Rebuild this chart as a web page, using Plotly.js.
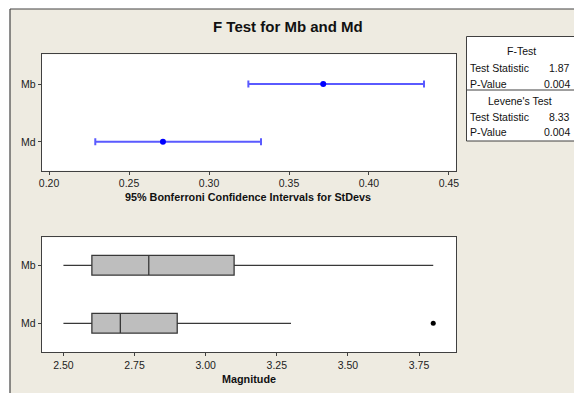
<!DOCTYPE html>
<html>
<head>
<meta charset="utf-8">
<script src="https://cdn.plot.ly/plotly-3.0.1.min.js"></script>
<style>html,body{margin:0;padding:0;background:#fff;}#chart{width:574px;height:393px;}</style>
</head>
<body>
<div id="chart"></div>
<script>
// ---- data ----
const groups = ['Mb', 'Md'];
const stdevEst = [0.3714, 0.2712];
const ciLower = [0.3246, 0.2289];
const ciUpper = [0.4344, 0.3325];

const boxQ1 = [2.6, 2.6];
const boxMedian = [2.8, 2.7];
const boxQ3 = [3.1, 2.9];
const whiskLow = [2.5, 2.5];
const whiskHigh = [3.8, 3.3];
const outlierGroup = ['Md'];
const outlierValue = [3.8];

const topTicks = [0.20, 0.25, 0.30, 0.35, 0.40, 0.45];
const bottomTicks = [2.50, 2.75, 3.00, 3.25, 3.50, 3.75];

const tableHeaders = ['F-Test', "Levene's Test"];
const tableRowLabels = ['Test Statistic', 'P-Value'];
const fTestValues = ['1.87', '0.004'];
const leveneValues = ['8.33', '0.004'];

// ---- geometry helpers (pixels -> paper) ----
const W = 574, H = 393;
const px = v => v / W;
const py = v => 1 - v / H;

const FAM = 'Liberation Sans, Arial, sans-serif';
const tickFont = {family: FAM, size: 10.5, color: '#222'};
const lineCol = '#404040';

const traces = [
  {
    type: 'scatter', mode: 'markers',
    x: stdevEst, y: groups, xaxis: 'x', yaxis: 'y',
    marker: {color: '#0000ff', size: 6},
    error_x: {
      type: 'data', symmetric: false,
      array: ciUpper.map((u, i) => u - stdevEst[i]),
      arrayminus: stdevEst.map((c, i) => c - ciLower[i]),
      color: '#5a5aff', thickness: 2, width: 3.5
    },
    hoverinfo: 'skip', showlegend: false
  },
  {
    type: 'box', orientation: 'h',
    y: groups, q1: boxQ1, median: boxMedian, q3: boxQ3,
    lowerfence: whiskLow, upperfence: whiskHigh,
    xaxis: 'x2', yaxis: 'y2',
    fillcolor: '#bebebe', line: {color: '#383838', width: 1.3},
    whiskerwidth: 0, width: 0.34, boxpoints: false,
    hoverinfo: 'skip', showlegend: false
  },
  {
    type: 'scatter', mode: 'markers',
    x: outlierValue, y: outlierGroup, xaxis: 'x2', yaxis: 'y2',
    marker: {color: '#000', size: 5, symbol: 'circle'},
    hoverinfo: 'skip', showlegend: false
  }
];

const axisCommon = {
  showgrid: false, zeroline: false, showline: true, mirror: true,
  linecolor: lineCol, linewidth: 1, ticks: 'outside', ticklen: 3,
  tickcolor: lineCol, tickfont: tickFont, fixedrange: true
};

// table layout
const tL = 466.5, tT = 36.5, tB = 141, tSep = 90;
const shapes = [
  {type: 'rect', xref: 'paper', yref: 'paper', x0: 0, x1: 1, y0: py(9), y1: 1, fillcolor: '#ffffff', line: {width: 0}, layer: 'below'},
  {type: 'rect', xref: 'paper', yref: 'paper', x0: 0, x1: px(10), y0: 0, y1: 1, fillcolor: '#ffffff', line: {width: 0}, layer: 'below'},
  {type: 'line', xref: 'paper', yref: 'paper', x0: px(10), x1: px(10), y0: -0.05, y1: py(9), line: {color: '#444', width: 1.2}},
  {type: 'line', xref: 'paper', yref: 'paper', x0: px(10), x1: 1.05, y0: py(9), y1: py(9), line: {color: '#444', width: 1.2}},
  {type: 'rect', xref: 'paper', yref: 'paper', x0: px(tL), x1: 1.05, y0: py(tB), y1: py(tT), fillcolor: '#ffffff', line: {color: lineCol, width: 1}},
  {type: 'line', xref: 'paper', yref: 'paper', x0: px(tL), x1: 1.05, y0: py(tSep), y1: py(tSep), line: {color: lineCol, width: 1}}
];

const tf = {family: FAM, size: 10.5, color: '#111'};
const ann = (text, x, y, xanchor, font) => ({
  text, x: px(x), y: py(y), xref: 'paper', yref: 'paper',
  xanchor, yanchor: 'middle', showarrow: false, font: font || tf
});
const annotations = [
  ann('<b>F Test for Mb and Md</b>', 288, 26, 'center', {family: FAM, size: 15, color: '#111'}),
  ann('<b>95% Bonferroni Confidence Intervals for StDevs</b>', 248, 197, 'center', {family: FAM, size: 10.8, color: '#111'}),
  ann('<b>Magnitude</b>', 249, 379, 'center', {family: FAM, size: 10.8, color: '#111'}),
  ann(tableHeaders[0], 521, 50.5, 'center'),
  ann(tableRowLabels[0], 468, 68, 'left'),
  ann(fTestValues[0], 572, 68, 'right'),
  ann(tableRowLabels[1], 468, 83.5, 'left'),
  ann(fTestValues[1], 572, 83.5, 'right'),
  ann(tableHeaders[1], 520, 100.5, 'center'),
  ann(tableRowLabels[0], 468, 117.5, 'left'),
  ann(leveneValues[0], 572, 117.5, 'right'),
  ann(tableRowLabels[1], 468, 131.5, 'left'),
  ann(leveneValues[1], 572, 131.5, 'right')
];

const layout = {
  width: W, height: H,
  margin: {l: 0, r: 0, t: 0, b: 0, pad: 0},
  paper_bgcolor: '#eeebe1', plot_bgcolor: '#ffffff',
  showlegend: false,
  xaxis: Object.assign({}, axisCommon, {
    domain: [px(41.7), px(456)], range: [0.1954, 0.4544], anchor: 'y',
    tickvals: topTicks, tickformat: '.2f'
  }),
  yaxis: Object.assign({}, axisCommon, {
    domain: [py(170.7), py(54.3)], range: [-0.5, 1.515], anchor: 'x',
    type: 'category', categoryorder: 'array', categoryarray: ['Md', 'Mb']
  }),
  xaxis2: Object.assign({}, axisCommon, {
    domain: [px(41.7), px(456)], range: [2.4236, 3.880], anchor: 'y2',
    tickvals: bottomTicks, tickformat: '.2f'
  }),
  yaxis2: Object.assign({}, axisCommon, {
    domain: [py(352.3), py(237.3)], range: [-0.5, 1.483], anchor: 'x2',
    type: 'category', categoryorder: 'array', categoryarray: ['Md', 'Mb']
  }),
  shapes, annotations
};

Plotly.newPlot('chart', traces, layout, {displayModeBar: false, staticPlot: true});
</script>
</body>
</html>
